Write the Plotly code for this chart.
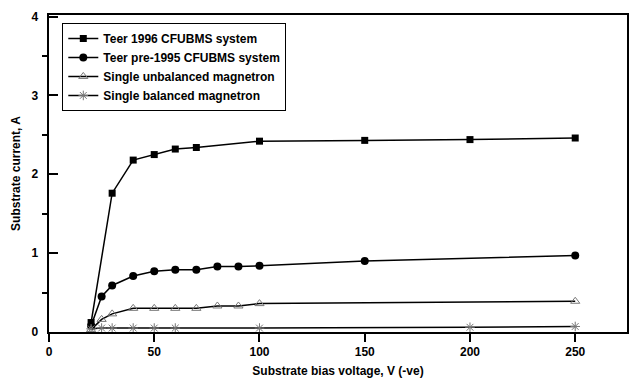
import plotly.graph_objects as go

# Data
x_teer96 = [20, 30, 40, 50, 60, 70, 100, 150, 200, 250]
y_teer96 = [0.12, 1.76, 2.18, 2.25, 2.32, 2.34, 2.42, 2.43, 2.44, 2.46]

x_teer95 = [20, 25, 30, 40, 50, 60, 70, 80, 90, 100, 150, 250]
y_teer95 = [0.08, 0.45, 0.59, 0.71, 0.77, 0.79, 0.79, 0.83, 0.83, 0.84, 0.90, 0.97]

x_unbal = [20, 25, 30, 40, 50, 60, 70, 80, 90, 100, 250]
y_unbal = [0.03, 0.16, 0.23, 0.30, 0.30, 0.30, 0.30, 0.33, 0.33, 0.36, 0.39]

x_bal = [20, 25, 30, 40, 50, 60, 100, 200, 250]
y_bal = [0.04, 0.05, 0.05, 0.05, 0.05, 0.05, 0.05, 0.06, 0.07]

y_ticks = [0, 1, 2, 3, 4]
x_ticks = [0, 50, 100, 150, 200, 250]

names = ["Teer 1996 CFUBMS system", "Teer pre-1995 CFUBMS system",
         "Single unbalanced magnetron", "Single balanced magnetron"]

fig = go.Figure()
fig.add_trace(go.Scatter(x=x_teer96, y=y_teer96, name=names[0], mode="lines+markers",
                         line=dict(color="black", width=1.5),
                         marker=dict(symbol="square", size=7, color="black")))
fig.add_trace(go.Scatter(x=x_teer95, y=y_teer95, name=names[1], mode="lines+markers",
                         line=dict(color="black", width=1.5),
                         marker=dict(symbol="circle", size=8, color="black")))
fig.add_trace(go.Scatter(x=x_unbal, y=y_unbal, name=names[2], mode="lines+markers",
                         line=dict(color="black", width=1.5),
                         marker=dict(symbol="triangle-up-open", size=8, color="#777777",
                                     line=dict(width=1, color="#777777"))))
fig.add_trace(go.Scatter(x=x_bal, y=y_bal, name=names[3], mode="lines+markers",
                         line=dict(color="black", width=1.5),
                         marker=dict(symbol="asterisk-open", size=8, color="#777777",
                                     line=dict(width=1, color="#777777"))))

font_bold = "Liberation Sans"
pad = "<span style='color:rgba(0,0,0,0)'>0</span>"
fig.update_layout(
    width=630, height=378,
    margin=dict(l=49, r=1, t=15, b=46),
    plot_bgcolor="white", paper_bgcolor="white",
    font=dict(family=font_bold, size=12, color="black"),
    showlegend=True,
    legend=dict(x=0.023, y=0.975, xanchor="left", yanchor="top",
                bordercolor="black", borderwidth=1, bgcolor="white",
                font=dict(family=font_bold, size=12, weight="bold"),
                tracegroupgap=0, itemwidth=30),
    xaxis=dict(range=[0, 274.6], tickvals=x_ticks,
               ticks="outside", ticklen=8, tickwidth=1.5, tickcolor="black",
               showline=True, linecolor="black", linewidth=1.5, mirror=True,
               showgrid=False, zeroline=False,
               tickfont=dict(size=12, weight="bold"),
               title=dict(text="Substrate bias voltage, V (-ve)", standoff=8,
                          font=dict(size=12, weight="bold"))),
    yaxis=dict(range=[0, 4.02], tickvals=y_ticks,
               ticktext=[f"{v}{pad}" for v in y_ticks],
               ticks="inside", ticklen=9, tickwidth=1.5, tickcolor="black",
               minor=dict(tickvals=[0.5, 1.5, 2.5, 3.5], ticks="outside", ticklen=5,
                          tickwidth=1.5, tickcolor="black"),
               showline=True, linecolor="black", linewidth=1.5, mirror=True,
               showgrid=False, zeroline=False,
               tickfont=dict(size=12, weight="bold"),
               title=dict(text="Substrate current, A", standoff=8,
                          font=dict(size=12, weight="bold"))),
)

fig.write_html("out.html")
